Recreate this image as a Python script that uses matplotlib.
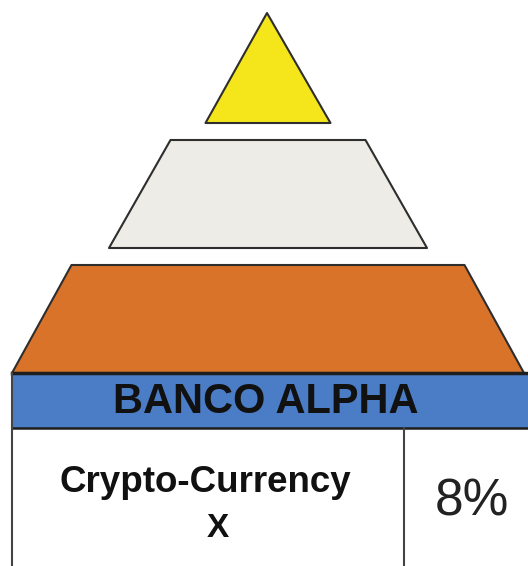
import matplotlib.pyplot as plt
from matplotlib.patches import Polygon, Rectangle

# contenu du schéma
bank_name = "BANCO ALPHA"
asset_lines = ["Crypto-Currency", "X"]
asset_share = "8%"
tier_colors = ["#F4E61A", "#EEECE6", "#D9732A"]

# géométrie des étages (en pixels, y vers le bas)
tier_tops = [13, 140, 265]
tier_bottoms = [123, 248, 373]
top_halfw = [0, 97.5, 196.5]
bottom_halfw = [62.5, 159, 256]
cx = 268

W, H = 528, 566
fig = plt.figure(figsize=(W / 100, H / 100), dpi=100)
ax = fig.add_axes([0, 0, 1, 1])
ax.set_xlim(0, W)
ax.set_ylim(H, 0)
ax.axis("off")

for t, b, tw, bw, c in zip(tier_tops, tier_bottoms, top_halfw, bottom_halfw, tier_colors):
    if tw == 0:
        pts = [(cx - 1, t), (cx - bw, b), (cx + bw, b)]
    else:
        pts = [(cx - tw, t), (cx + tw, t), (cx + bw, b), (cx - bw, b)]
    ax.add_patch(Polygon(pts, closed=True, facecolor=c, edgecolor="#2e2e2e", lw=1.5, joinstyle="round"))

# bandeau bleu
ax.add_patch(Rectangle((12, 373), W, 55, facecolor="#4A7DC6", edgecolor="none"))
ax.plot([12, W], [373, 373], color="#1e1e1e", lw=2.5)
ax.plot([12, W], [428, 428], color="#1e1e1e", lw=1.8)
ax.text(266, 402, bank_name, ha="center", va="center", fontsize=30,
        fontweight="bold", family="Liberation Sans", color="#111111")

# tableau
ax.plot([12, 12], [373, H], color="#444444", lw=1.5)
ax.plot([404, 404], [428, H], color="#444444", lw=1.5)
ax.text(205, 492, asset_lines[0], ha="center", va="baseline", fontsize=26.5,
        fontweight="bold", family="Liberation Sans", color="#111111")
ax.text(218, 537, asset_lines[1], ha="center", va="baseline", fontsize=24,
        fontweight="bold", family="Liberation Sans", color="#111111")
ax.text(472, 515, asset_share, ha="center", va="baseline", fontsize=37,
        family="Liberation Sans", color="#222222")

fig.savefig("out.png", dpi=100)
